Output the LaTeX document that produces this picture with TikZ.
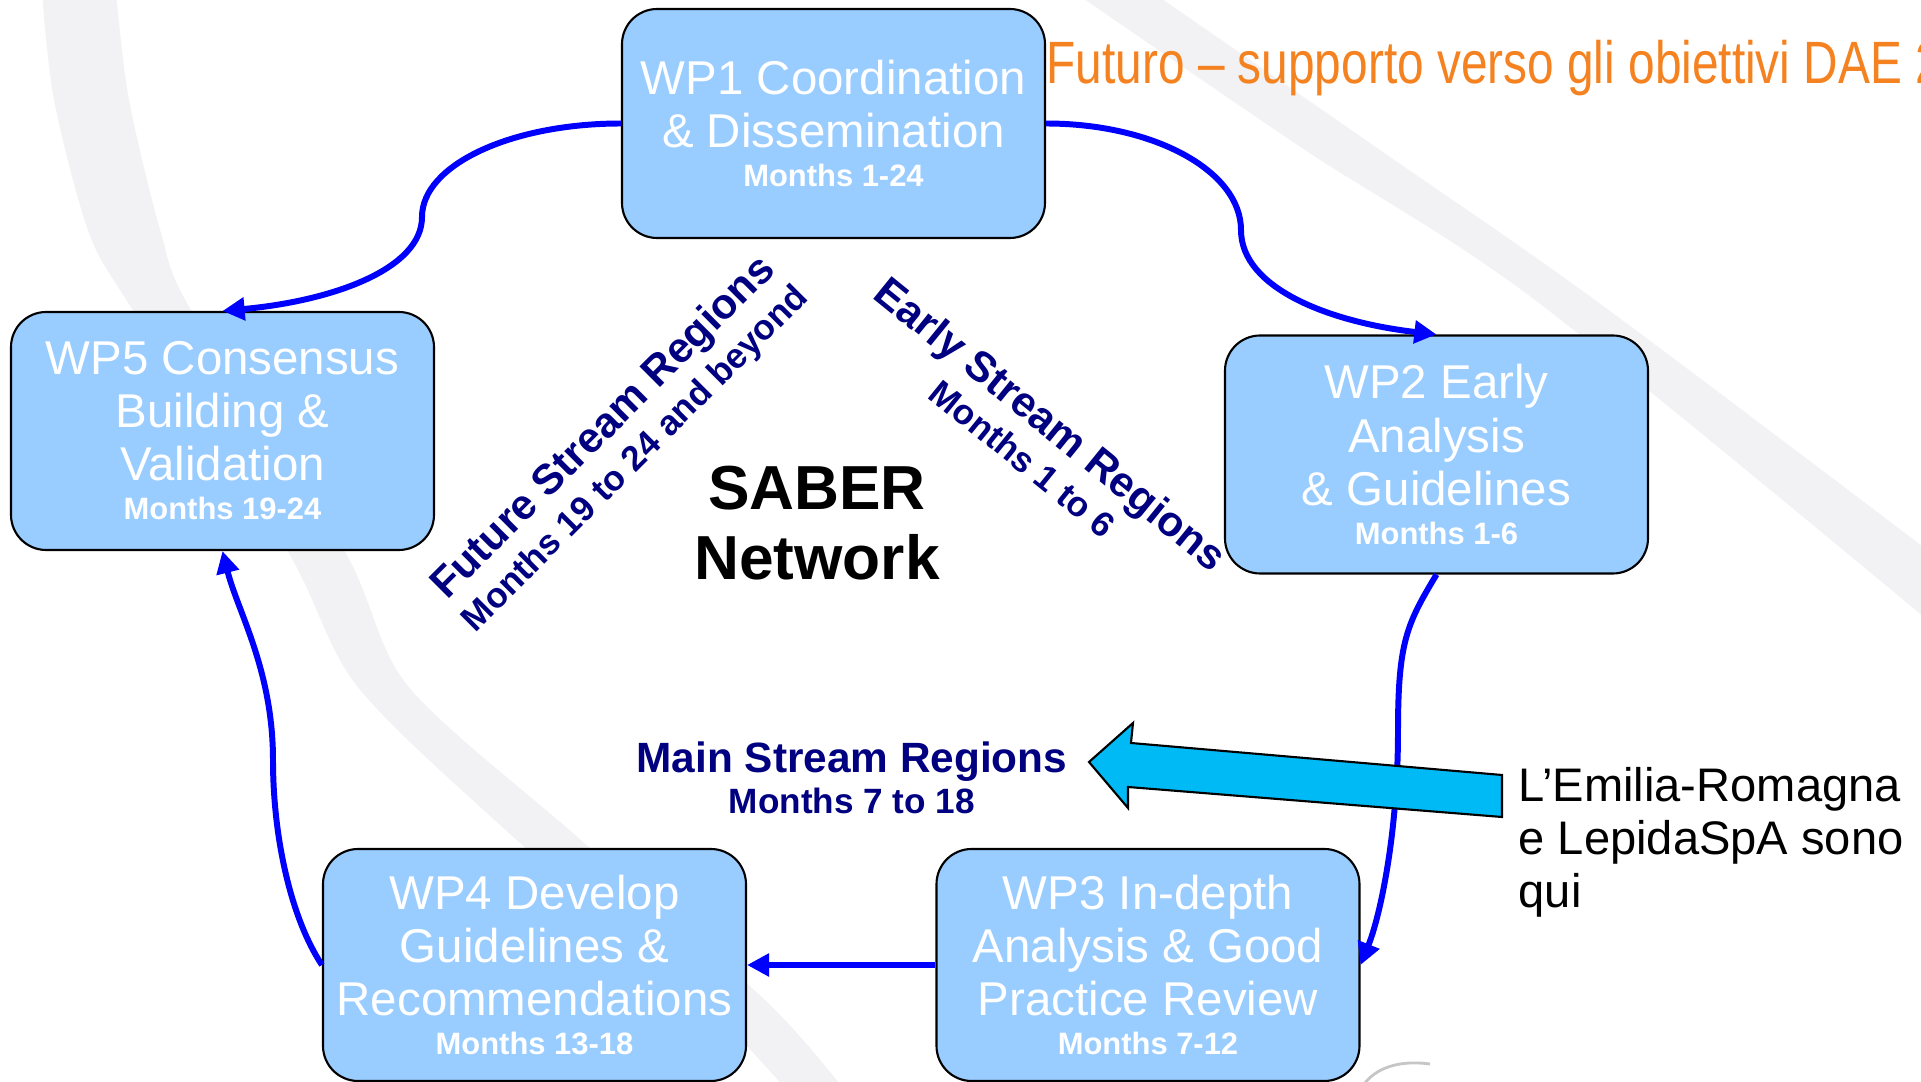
\documentclass[tikz,border=0pt]{standalone}
\usepackage{fontspec}
\setmainfont{Liberation Sans}
\newfontfamily\narrowfont{Liberation Sans}[FakeStretch=0.80]
\usetikzlibrary{arrows.meta}

\definecolor{wpfill}{RGB}{153,204,255}
\definecolor{flowblue}{RGB}{0,0,255}
\definecolor{streamnavy}{RGB}{0,0,128}
\definecolor{pointercyan}{RGB}{0,186,245}
\definecolor{swoosh}{RGB}{242,242,244}
\definecolor{titleorange}{RGB}{245,130,32}

\newcommand{\wpmonths}[1]{{\fontsize{8.8}{10}\selectfont\bfseries #1}}
\newcommand{\streammonths}[1]{{\fontsize{10}{12}\selectfont #1}}

\begin{document}
\begin{tikzpicture}[
  wp/.style={draw, line width=0.6pt, fill=wpfill, rounded corners=10pt,
             align=center, text=white, inner sep=1pt,
             minimum width=4.23cm, minimum height=2.31cm,
             font=\fontsize{13.5}{15.1}\selectfont},
  stream/.style={text=streamnavy, align=center, inner sep=0pt,
                 font=\bfseries\fontsize{12.05}{12.2}\selectfont},
  flow/.style={draw=flowblue, line width=1.7pt},
  >={Triangle[length=6.3pt, width=6.3pt]}
]
\useasboundingbox (0,0) rectangle (19.21,10.82);
\clip (0,0) rectangle (19.21,10.82);

% ---- Background swooshes ----
\fill[swoosh] plot[smooth] coordinates {(0.42,10.9) (0.54,9.82) (0.89,8.49) (1.34,7.70)
    (2.87,5.32) (3.57,3.96) (5.10,2.48) (7.01,0.82) (7.84,-0.05)}
  -- plot[smooth] coordinates {(8.42,-0.05) (7.65,0.82) (5.74,2.48) (4.08,3.96)
    (3.44,5.32) (1.92,7.70) (1.61,8.49) (1.29,9.82) (1.16,10.9)} -- cycle;
\fill[swoosh] plot[smooth] coordinates {(10.74,10.9) (13.05,9.32) (15.35,7.82) (19.3,4.6)}
  -- plot[smooth] coordinates {(19.3,5.3) (15.95,7.82) (13.8,9.32) (11.52,10.9)} -- cycle;
\draw[gray!45, line width=0.8pt] (13.62,-0.05) .. controls (13.75,0.15) and (14.0,0.22) .. (14.3,0.18);

% ---- Title ----
\node[anchor=base west, inner sep=0pt, text=titleorange,
      font=\narrowfont\fontsize{17}{19}\selectfont] (title) at (10.46,9.98)
  {Futuro – supporto verso gli obiettivi DAE 2};

% ---- Work packages ----
\node[wp, minimum height=2.29cm] (wp1) at (8.335,9.585) {
  WP1 Coordination\\
  \& Dissemination\\[-4pt]
  \wpmonths{Months 1-24}
};
\node[wp, minimum height=2.38cm] (wp2) at (14.365,6.275) {
  WP2 Early\\
  Analysis\\
  \& Guidelines\\[-4pt]
  \wpmonths{Months 1-6}
};
\node[wp, minimum height=2.32cm] (wp3) at (11.48,1.17) {
  WP3 In-depth\\
  Analysis \& Good\\
  Practice Review\\[-4pt]
  \wpmonths{Months 7-12}
};
\node[wp, minimum height=2.32cm] (wp4) at (5.345,1.17) {
  WP4 Develop\\
  Guidelines \&\\
  Recommendations\\[-4pt]
  \wpmonths{Months 13-18}
};
\node[wp, minimum height=2.38cm] (wp5) at (2.225,6.51) {
  WP5 Consensus\\
  Building \&\\
  Validation\\[-4pt]
  \wpmonths{Months 19-24}
};

% ---- Centre labels ----
\node[align=center, inner sep=0pt, font=\bfseries\fontsize{17.7}{19.9}\selectfont]
  (saber) at (8.17,5.59) {SABER\\Network};
\node[stream, rotate=45] (future) at (6.19,6.39)
  {Future Stream Regions\\\streammonths{Months 19 to 24 and beyond}};
\node[stream, rotate=-39] (early) at (10.38,6.42)
  {Early Stream Regions\\\streammonths{Months 1 to 6}};
\node[stream] (main) at (8.52,3.045)
  {Main Stream Regions\\[-0.5pt]\streammonths{Months 7 to 18}};

% ---- Edges ----
\coordinate (c15) at (4.22,8.65);
\coordinate (c12) at (12.41,8.52);
\coordinate (c23) at (13.98,3.5);
\coordinate (c45) at (2.73,3.22);

\draw[flow, ->] (wp1.west) .. controls +(-1.1,0) and +(0,0.52) .. (c15)
  .. controls +(0,-0.52) and +(1.1,0.1) .. (wp5.north);
\draw[flow, ->] (wp1.east) .. controls +(1.08,0) and +(0,0.59) .. (c12)
  .. controls +(0,-0.59) and +(-1.05,0.12) .. (wp2.north);
\draw[flow, ->] (wp2.south) .. controls +(-0.3,-0.5) and +(0,0.9) .. (c23)
  .. controls +(0,-1.0) and +(0.2,0.5) .. (wp3.east);
\draw[flow, ->] (wp3.west) -- (wp4.east);
\draw[flow, ->] (wp4.west) .. controls +(-0.3,0.45) and +(0,-0.8) .. (c45)
  .. controls +(0,0.9) and +(0.15,-0.6) .. (wp5.south);

% ---- Pointer to main stream ----
\draw[fill=pointercyan, line width=0.6pt] (15.02,3.07) -- (11.31,3.39) -- (11.33,3.59)
  -- (10.89,3.20) -- (11.28,2.74) -- (11.28,2.95) -- (15.02,2.65) -- cycle;
\node[anchor=north west, inner sep=0pt, align=left,
      font=\fontsize{13.4}{15.1}\selectfont] (here) at (15.18,3.15)
  {L’Emilia-Romagna\\e LepidaSpA sono\\qui};

\end{tikzpicture}
\end{document}
